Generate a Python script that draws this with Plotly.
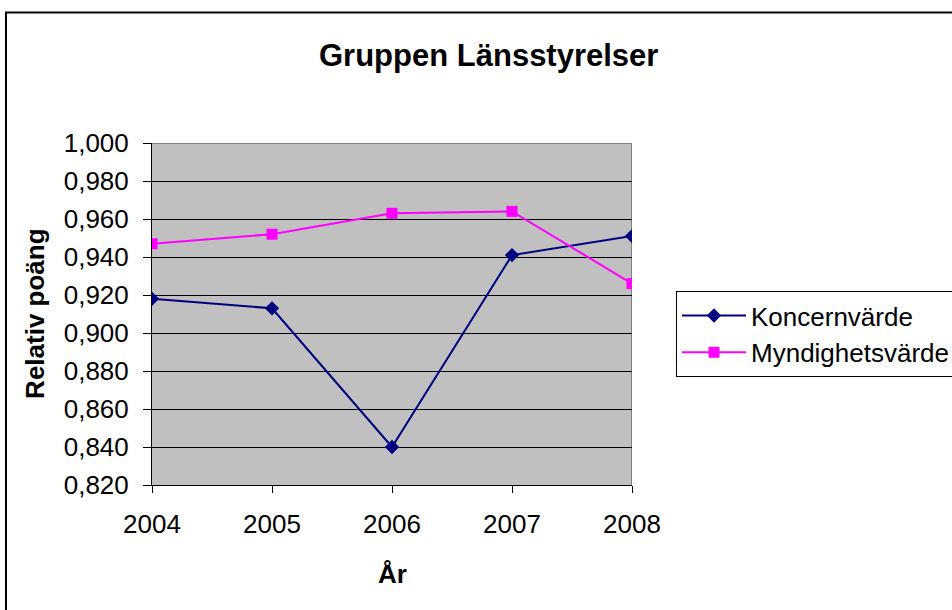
import plotly.graph_objects as go

years = ["2004", "2005", "2006", "2007", "2008"]
koncern = [0.918, 0.913, 0.840, 0.941, 0.951]
myndighet = [0.947, 0.952, 0.963, 0.964, 0.926]
ytick_vals = [0.82, 0.84, 0.86, 0.88, 0.90, 0.92, 0.94, 0.96, 0.98, 1.00]

FONT = "Liberation Sans, Arial, sans-serif"
FS = 26

fig = go.Figure()
fig.add_trace(go.Scatter(
    x=years, y=koncern, name="Koncernvärde", mode="lines+markers",
    line=dict(color="#000080", width=2),
    marker=dict(symbol="diamond", size=11, color="#000080"),
))
fig.add_trace(go.Scatter(
    x=years, y=myndighet, name="Myndighetsvärde", mode="lines+markers",
    line=dict(color="#FF00FF", width=2),
    marker=dict(symbol="square", size=11, color="#FF00FF"),
))

# plot area: x 152..632, y 143..485 px
fig.update_layout(
    width=952, height=610,
    margin=dict(l=152, r=320, t=143, b=125, autoexpand=False),
    paper_bgcolor="white", plot_bgcolor="#C0C0C0",
    separators=", ",
    font=dict(family=FONT, size=FS, color="black"),
    showlegend=True,
    legend=dict(
        x=1.0917, y=0.567, xanchor="left", yanchor="top",
        bgcolor="white", bordercolor="black", borderwidth=1,
        font=dict(family=FONT, size=FS, color="black"),
        itemwidth=64, tracegroupgap=0,
    ),
    xaxis=dict(
        type="category", range=[0, 4],
        showline=True, linecolor="black", linewidth=1,
        ticks="outside", ticklen=7, tickcolor="black",
        showgrid=False, zeroline=False,
        tickfont=dict(family=FONT, size=FS, color="black"),
        ticklabelstandoff=9,
    ),
    yaxis=dict(
        range=[0.82, 1.0], tickvals=ytick_vals, tickformat=".3f",
        showline=True, linecolor="black", linewidth=1,
        ticks="outside", ticklen=8, tickcolor="black",
        showgrid=True, gridcolor="black", gridwidth=1, zeroline=False,
        tickfont=dict(family=FONT, size=FS, color="black"),
        ticklabelstandoff=9,
    ),
    shapes=[
        dict(type="line", xref="x", yref="y", x0=0, x1=4, y0=1.0, y1=1.0,
             line=dict(color="#808080", width=2), layer="below"),
        dict(type="line", xref="x", yref="y", x0=4, x1=4, y0=0.82, y1=1.0,
             line=dict(color="#808080", width=2), layer="below"),
        dict(type="rect", xref="paper", yref="paper",
             x0=-0.3042, x1=1.70, y0=-0.40, y1=1.3815,
             line=dict(color="black", width=2), fillcolor="rgba(0,0,0,0)",
             layer="above"),
    ],
    annotations=[
        dict(text="<b>Gruppen Länsstyrelser</b>", xref="paper", yref="paper",
             x=0.702, y=1.257, showarrow=False, xanchor="center", yanchor="middle",
             font=dict(family=FONT, size=31, color="black")),
        dict(text="<b>Relativ poäng</b>", xref="paper", yref="paper",
             x=-0.244, y=0.5, showarrow=False, textangle=-90,
             xanchor="center", yanchor="middle",
             font=dict(family=FONT, size=FS, color="black")),
        dict(text="<b>År</b>", xref="paper", yref="paper",
             x=0.5, y=-0.26, showarrow=False, xanchor="center", yanchor="middle",
             font=dict(family=FONT, size=FS, color="black")),
    ],
)

fig.write_html("out.html", config={"displayModeBar": False},
               post_script="document.body.style.margin='0';")
